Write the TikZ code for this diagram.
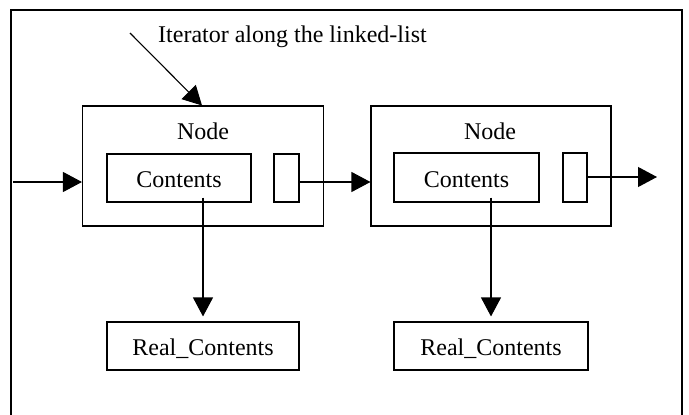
\documentclass[tikz,border=0pt]{standalone}
\usepackage{fontspec}
\setmainfont{Liberation Serif}
\usetikzlibrary{arrows.meta}
\begin{document}
\begin{tikzpicture}[x=1pt,y=-1pt,
  box/.style={draw,line width=1.1pt,inner sep=0pt,rectangle},
  txt/.style={inner sep=0pt,font=\fontsize{24}{28}\selectfont},
  arr/.style={line width=1.1pt,-{Triangle[length=19pt,width=20pt]}},
  frame/.style={draw,line width=1.3pt}]
\useasboundingbox (0,0) rectangle (689,415);
\begin{scope}
\clip (0,0) rectangle (689,415);
\draw[frame] (11,10) rectangle (682,430);
\end{scope}
% nodes
\node[box,minimum width=241pt,minimum height=120pt] (n1) at (203,166) {};
\node[box,minimum width=240pt,minimum height=120pt] (n2) at (491,166) {};
\node[txt,anchor=base] (l1) at (203,139) {Node};
\node[txt,anchor=base] (l2) at (490,139) {Node};
\node[box,minimum width=144pt,minimum height=48pt] (c1) at (179,178) {};
\node[txt,anchor=base] (ct1) at (179,187) {Contents};
\node[box,minimum width=145pt,minimum height=49pt] (c2) at (466.5,177.5) {};
\node[txt,anchor=base] (ct2) at (466.5,187) {Contents};
\node[box,minimum width=25pt,minimum height=48pt] (s1) at (286.5,178) {};
\node[box,minimum width=24pt,minimum height=49pt] (s2) at (575,177.5) {};
\node[box,minimum width=192pt,minimum height=48pt] (r1) at (203,346) {};
\node[txt,anchor=base] (rt1) at (203,355) {Real\_Contents};
\node[box,minimum width=194pt,minimum height=48pt] (r2) at (491,346) {};
\node[txt,anchor=base] (rt2) at (491,355) {Real\_Contents};
\node[txt,anchor=base west] (it) at (158,42) {Iterator along the linked-list};
% coordinates
\coordinate (inA) at (13,182);
\coordinate (midA) at (299,182);
\coordinate (outB) at (657,177);
\coordinate (itA) at (130,33);
% connectors
\draw[arr] (inA) -- (inA -| n1.west);
\draw[arr] (midA) -- (midA -| n2.west);
\draw[arr] (s2.east |- outB) -- (outB);
\draw[arr] (itA) -- ([xshift=-1pt]n1.north);
\draw[arr,shorten >=5pt] ([yshift=5pt]r1.north |- c1.south) -- (r1.north);
\draw[arr,shorten >=5pt] ([yshift=5pt]r2.north |- c2.south) -- (r2.north);
\end{tikzpicture}
\end{document}
